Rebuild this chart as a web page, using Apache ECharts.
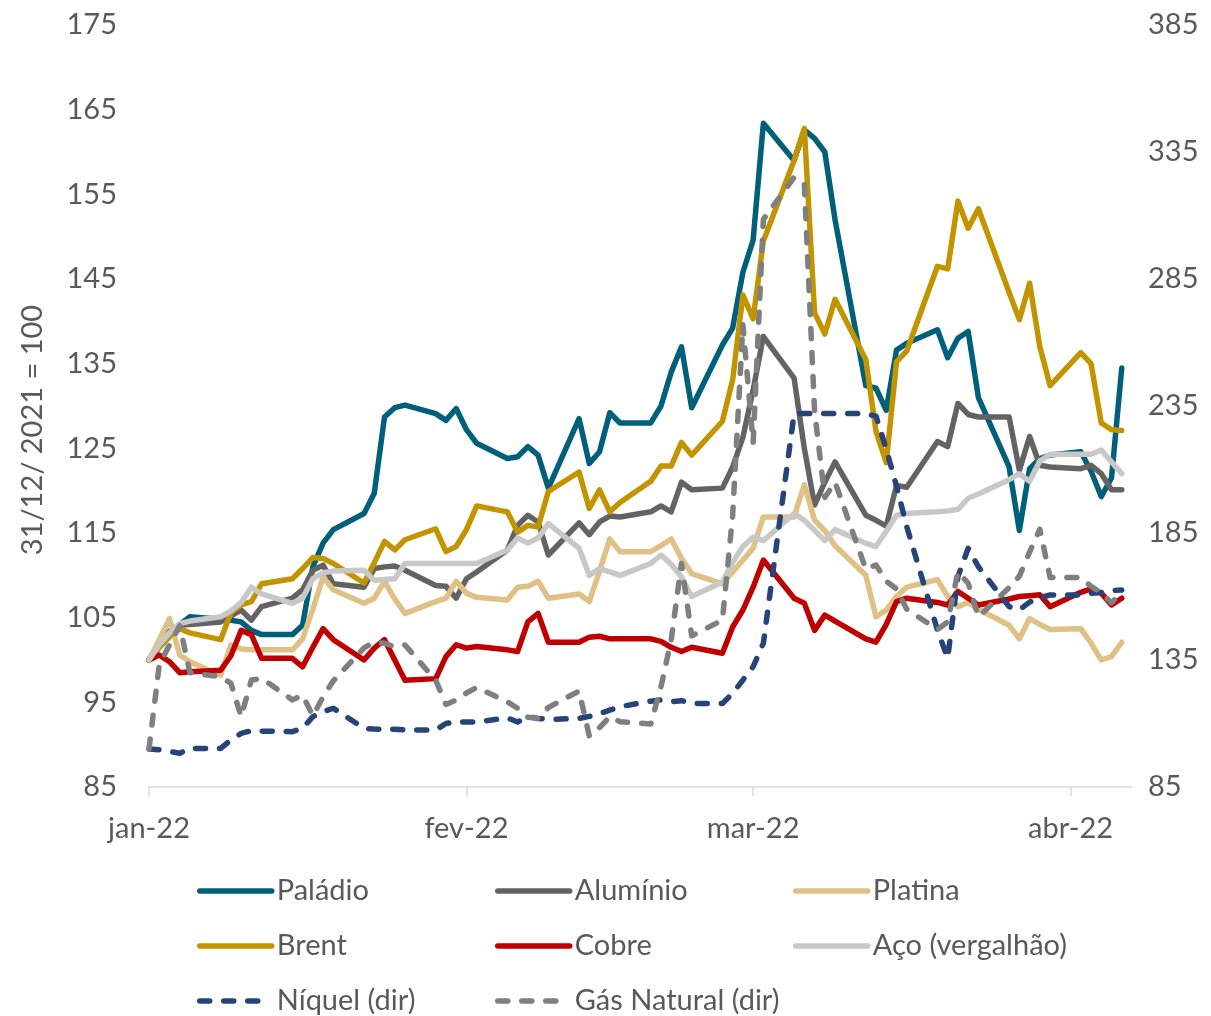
<!DOCTYPE html>
<html>
<head>
<meta charset="utf-8">
<script src="https://cdn.jsdelivr.net/npm/echarts@6/dist/echarts.min.js"></script>
<style>
  html, body { margin: 0; padding: 0; background: #ffffff; }
  #chart { width: 1211px; height: 1016px; }
</style>
</head>
<body>
<div id="chart"></div>
<script>
// Trading days, first session indexed to 100
const dates = [
  '2022-01-03','2022-01-04','2022-01-05','2022-01-06','2022-01-07',
  '2022-01-10','2022-01-11','2022-01-12','2022-01-13','2022-01-14',
  '2022-01-17','2022-01-18','2022-01-19','2022-01-20','2022-01-21',
  '2022-01-24','2022-01-25','2022-01-26','2022-01-27','2022-01-28',
  '2022-01-31','2022-02-01','2022-02-02','2022-02-03','2022-02-04',
  '2022-02-07','2022-02-08','2022-02-09','2022-02-10','2022-02-11',
  '2022-02-14','2022-02-15','2022-02-16','2022-02-17','2022-02-18',
  '2022-02-21','2022-02-22','2022-02-23','2022-02-24','2022-02-25',
  '2022-02-28','2022-03-01','2022-03-02','2022-03-03','2022-03-04',
  '2022-03-07','2022-03-08','2022-03-09','2022-03-10','2022-03-11',
  '2022-03-14','2022-03-15','2022-03-16','2022-03-17','2022-03-18',
  '2022-03-21','2022-03-22','2022-03-23','2022-03-24','2022-03-25',
  '2022-03-28','2022-03-29','2022-03-30','2022-03-31','2022-04-01',
  '2022-04-04','2022-04-05','2022-04-06','2022-04-07','2022-04-08'
];

// Left axis series (31/12/2021 = 100)
const paladio = [
  100, 101.5, 102.8, 104.2, 105.1, 104.8, 104.7, 104.5, 103.5, 103,
  103, 104.1, 111, 113.8, 115.4, 117.3, 119.7, 128.7, 129.8, 130.1,
  129.1, 128.3, 129.7, 127.2, 125.6, 123.8, 124, 125.2, 124.2, 120.3,
  128.5, 123.2, 124.6, 129.2, 128, 128, 130, 134, 137, 129.8,
  137.2, 139.2, 145.8, 149.6, 163.4, 159, 162.6, 161.6, 160, 152,
  132.4, 132.1, 129.5, 136.6, 137.4, 139, 135.7, 138, 138.8, 131,
  122.8, 115.3, 122.6, 123.8, 124.2, 124.6, 122.3, 119.3, 121.5, 134.5
];
const aluminio = [
  100, 102, 103.4, 104.1, 104.2, 104.5, 105.2, 105.9, 104.7, 106.3,
  107.3, 108.3, 110.6, 111.2, 109, 108.6, 110.8, 111, 111.1, 110.6,
  108.8, 108.7, 107.3, 109.6, 110.4, 113, 115.9, 117.1, 116.3, 112.4,
  116.2, 114.8, 116.3, 117, 116.9, 117.5, 118.2, 117.5, 121, 120.1,
  120.3, 122.8, 126.3, 131.9, 138.2, 133.3, 125, 118.3, 121, 123.4,
  117.1, 116.5, 115.8, 120.6, 120.4, 125.8, 125.2, 130.3, 129, 128.7,
  128.7, 122.4, 126.4, 123, 122.8, 122.6, 123, 122, 120.1, 120.1
];
const platina = [
  100, 102.4, 104.9, 100.6, 99.8, 98.2, 101.8, 101.3, 101.2, 101.2,
  101.2, 102.5, 106, 109.8, 108.3, 106.7, 107.3, 109.3, 107.2, 105.5,
  106.9, 107.3, 109.3, 107.9, 107.4, 107.1, 108.6, 108.7, 109.3, 107.3,
  107.8, 106.9, 110.5, 114.3, 112.8, 112.8, 113.5, 114.3, 112, 110.2,
  109, 110.4, 111.8, 113.2, 116.9, 116.9, 120.7, 116.5, 115.3, 113.5,
  110, 105.1, 105.9, 107.5, 108.6, 109.5, 107.5, 106.3, 106.8, 106,
  104.1, 102.5, 104.9, 104.2, 103.6, 103.7, 102, 100, 100.4, 102.1
];
const brent = [
  100, 101.5, 102.8, 103.7, 103.2, 102.4, 105.6, 106.5, 106.9, 109,
  109.6, 110.8, 112.1, 112, 111.4, 109.1, 111.5, 114, 113, 114.2,
  115.5, 112.8, 113.4, 115.4, 118.2, 117.5, 115.1, 115.9, 115.7, 119.9,
  122.2, 117.9, 120.1, 117.5, 118.6, 121.1, 122.9, 122.9, 125.7, 124.2,
  128.2, 133.1, 143.1, 140.3, 149.5, 159, 162.8, 141, 138.5, 142.6,
  135.5, 127, 123.3, 135.2, 136.5, 146.5, 146.2, 154.2, 151, 153.3,
  143.4, 140.2, 144.5, 137, 132.4, 136.3, 135, 128, 127.2, 127.1
];
const cobre = [
  100, 100.6, 99.8, 98.5, 98.6, 98.8, 100.5, 103.5, 103, 100.2,
  100.2, 99.2, 101.5, 103.7, 102.4, 100, 101.4, 102.4, 100, 97.6,
  97.8, 100.4, 101.8, 101.4, 101.6, 101.2, 101, 104.5, 105.5, 102.1,
  102.1, 102.7, 102.8, 102.5, 102.5, 102.5, 102.2, 101.5, 101, 101.5,
  100.8, 103.9, 105.9, 108.6, 111.8, 107.3, 106.7, 103.5, 105.3, 104.6,
  102.5, 102.1, 104.2, 106.9, 107.3, 106.8, 106.5, 108.1, 107.3, 106.5,
  107.2, 107.5, 107.6, 107.7, 106.3, 108, 108.4, 107.9, 106.5, 107.3
];
const aco = [
  100, 101.8, 103.2, 104.3, 104.6, 105.1, 105.8, 106.8, 108.6, 107.8,
  106.7, 107.3, 109.6, 110.3, 110.5, 110.6, 109.4, 109.5, 109.6, 111.4,
  111.4, 111.4, 111.4, 111.4, 111.4, 113, 114.4, 113.8, 114.4, 116.1,
  113.2, 110, 110.8, 110.4, 110, 111.4, 112.4, 111.3, 109.8, 107.5,
  109.2, 111.5, 113.4, 114.5, 114.1, 117.3, 116.5, 115.3, 114.1, 115.4,
  113.8, 113.4, 115.2, 117.1, 117.3, 117.5, 117.6, 117.8, 119.1, 119.6,
  121.3, 122, 121.1, 123.5, 124.3, 124.3, 124.3, 124.8, 123.4, 122
];

// Right axis series (dir)
const niquel = [
  100, 99.7, 99, 98.3, 100.2, 100.2, 103.5, 106.1, 107.2, 107,
  106.8, 108.1, 112.7, 114.6, 116, 108.1, 107.8, 107.7, 107.7, 107.5,
  107.4, 110, 110.6, 110.6, 110.6, 112.2, 110.6, 112.7, 112, 111.6,
  112, 112.8, 113.9, 115.3, 116.6, 118.8, 119.3, 118.6, 119, 117.9,
  117.9, 121.9, 127.1, 132.4, 141.6, 232, 232, 232, 232, 232,
  232, 231, 218, 203.5, 187.5, 146.8, 135.7, 167.8, 179, 171.7,
  156, 154.7, 157.8, 159.5, 160.6, 160.6, 161.3, 161.6, 162.3, 162.6
];
const gasNatural = [
  100, 133, 141, 148.5, 130, 128.4, 125.8, 112.7, 127.1, 127.8,
  119.3, 121.2, 113, 120.5, 126.8, 139.8, 142, 141.6, 140.2, 140.9,
  127, 117.5, 119.2, 122, 124.2, 118.5, 116, 112.5, 112, 116.3,
  122.8, 105, 108.4, 112.7, 110.7, 109.8, 124.5, 142.9, 173, 144.5,
  150.7, 192, 267, 220.5, 308.5, 325, 322.5, 233, 199, 205,
  170.8, 172.4, 166, 163, 155, 147, 150, 169.7, 165.2, 152,
  163.5, 168, 177.5, 186.5, 167.5, 167.5, 164, 161.5, 157.5, 161.7
];

// Axis labels
const leftTicks = [85, 95, 105, 115, 125, 135, 145, 155, 165, 175];
const rightTicks = [85, 135, 185, 235, 285, 335, 385];
const monthTicks = ['2022-01-03', '2022-02-03', '2022-03-03', '2022-04-03'];
const monthNames = ['jan', 'fev', 'mar', 'abr', 'mai', 'jun', 'jul', 'ago', 'set', 'out', 'nov', 'dez'];

const FONT = 'Lato, "Open Sans", sans-serif';
const TEXT_COLOR = '#595959';
const LINE_W = 5.5;
const DASH = [10, 14];

const ts = s => Date.parse(s + 'T00:00:00Z');

function pairs(values) {
  return dates.map((d, i) => [ts(d), values[i]]);
}

function solid(name, values, color) {
  return {
    name: name, type: 'line', yAxisIndex: 0, data: pairs(values),
    symbol: 'none', showSymbol: false,
    lineStyle: { color: color, width: LINE_W, cap: 'round', join: 'round' },
    itemStyle: { color: color }
  };
}
function dashed(name, values, color) {
  return {
    name: name, type: 'line', yAxisIndex: 1, data: pairs(values),
    symbol: 'none', showSymbol: false,
    lineStyle: { color: color, width: LINE_W, type: DASH, cap: 'round', join: 'round' },
    itemStyle: { color: color }
  };
}

// One legend block per entry, laid out on a 3-column grid
const legendCols = [197, 495, 793];
const legendRows = [876, 931, 986];
function legendEntry(col, row, name, isDashed) {
  return {
    left: legendCols[col], top: legendRows[row], padding: 0,
    itemWidth: 72, itemHeight: 14,
    data: [name],
    itemStyle: { opacity: 0 },
    lineStyle: { width: LINE_W, cap: 'round', type: isDashed ? DASH : 'solid' },
    textStyle: { fontFamily: FONT, fontSize: 29, color: TEXT_COLOR, lineHeight: 30 }
  };
}

const chart = echarts.init(document.getElementById('chart'), null, { renderer: 'canvas' });
chart.setOption({
  animation: false,
  backgroundColor: '#ffffff',
  grid: { left: 149, right: 79, top: 25, bottom: 229, containLabel: false },
  xAxis: {
    type: 'value',
    min: ts('2022-01-03'),
    max: ts('2022-04-09'),
    axisLine: { show: true, lineStyle: { color: '#D9D9D9', width: 1.5 } },
    axisTick: { show: true, length: 9, lineStyle: { color: '#D9D9D9', width: 1.5 },
                customValues: monthTicks.map(ts) },
    splitLine: { show: false },
    axisLabel: {
      customValues: monthTicks.map(ts),
      margin: 27,
      fontFamily: FONT, fontSize: 29, color: TEXT_COLOR,
      formatter: v => {
        const d = new Date(v);
        return monthNames[d.getUTCMonth()] + '-' + String(d.getUTCFullYear()).slice(2);
      }
    }
  },
  yAxis: [
    {
      type: 'value', min: 85, max: 175,
      axisLine: { show: false }, axisTick: { show: false }, splitLine: { show: false },
      axisLabel: { customValues: leftTicks, margin: 32, fontFamily: FONT, fontSize: 29, color: TEXT_COLOR }
    },
    {
      type: 'value', min: 85, max: 385, position: 'right',
      axisLine: { show: false }, axisTick: { show: false }, splitLine: { show: false },
      axisLabel: { customValues: rightTicks, margin: 16, fontFamily: FONT, fontSize: 29, color: TEXT_COLOR }
    }
  ],
  legend: [
    legendEntry(0, 0, 'Paládio', false),
    legendEntry(1, 0, 'Alumínio', false),
    legendEntry(2, 0, 'Platina', false),
    legendEntry(0, 1, 'Brent', false),
    legendEntry(1, 1, 'Cobre', false),
    legendEntry(2, 1, 'Aço (vergalhão)', false),
    legendEntry(0, 2, 'Níquel (dir)', true),
    legendEntry(1, 2, 'Gás Natural (dir)', true)
  ],
  graphic: [{
    type: 'text', x: 33, y: 430, rotation: Math.PI / 2,
    style: { text: '31/12/ 2021 = 100', fontFamily: FONT, fontSize: 29, fill: TEXT_COLOR,
             align: 'center', verticalAlign: 'middle' }
  }],
  series: [
    solid('Paládio', paladio, '#00607A'),
    solid('Alumínio', aluminio, '#636363'),
    solid('Platina', platina, '#E0C185'),
    solid('Brent', brent, '#C29500'),
    solid('Cobre', cobre, '#C00000'),
    solid('Aço (vergalhão)', aco, '#C8C8C8'),
    dashed('Níquel (dir)', niquel, '#264478'),
    dashed('Gás Natural (dir)', gasNatural, '#7F7F7F')
  ]
});
</script>
</body>
</html>
